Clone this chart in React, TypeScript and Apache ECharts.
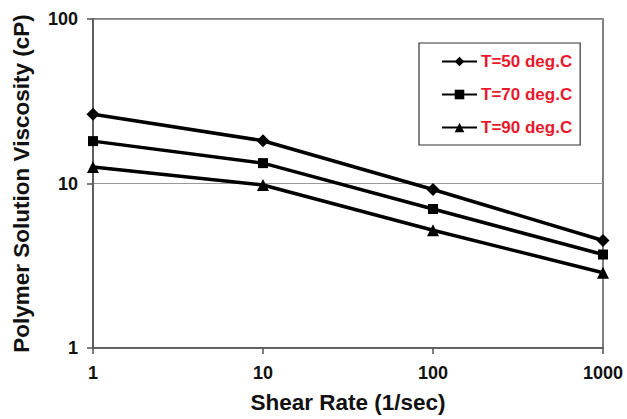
import React, { useEffect, useRef } from "react";
import * as echarts from "echarts";

const shearRates = [1, 10, 100, 1000];
const t50 = [26.4, 18.2, 9.2, 4.5];
const t70 = [18.1, 13.3, 7.0, 3.7];
const t90 = [12.6, 9.8, 5.2, 2.87];
const seriesNames = ["T=50 deg.C", "T=70 deg.C", "T=90 deg.C"];
const markers = ["diamond", "rect", "triangle"];
const markerSizes = [13, 10, 12];

export default function App() {
  const ref = useRef<HTMLDivElement>(null);
  useEffect(() => {
    const chart = echarts.init(ref.current!, null, { renderer: "svg" });
    const datasets = [t50, t70, t90];
    const font = "Liberation Sans, Arial, sans-serif";
    chart.setOption({
      animation: false,
      backgroundColor: "#fff",
      textStyle: { fontFamily: font },
      grid: {
        left: 93,
        top: 19,
        width: 510,
        height: 332,
        show: true,
        borderColor: "#555",
        borderWidth: 1.5,
        containLabel: false,
      },
      legend: {
        orient: "vertical",
        left: 419,
        top: 43,
        width: 160,
        data: seriesNames,
        itemWidth: 35,
        itemHeight: 12,
        itemGap: 16,
        padding: [10, 8, 9, 22],
        borderColor: "#333",
        borderWidth: 1.2,
        align: "left",
        textStyle: { color: "#e8192c", fontWeight: "bold", fontSize: 17, fontFamily: font, padding: [0, 0, 0, -1] },
      },
      xAxis: {
        type: "log",
        logBase: 10,
        min: 1,
        max: 1000,
        name: "Shear Rate (1/sec)",
        nameLocation: "middle",
        nameGap: 43,
        nameTextStyle: { fontSize: 22.5, fontWeight: "bold", color: "#111", fontFamily: font },
        axisLine: { lineStyle: { color: "#555", width: 1.5 } },
        axisTick: { show: true, length: 6, lineStyle: { color: "#555", width: 1.5 } },
        axisLabel: {
          fontSize: 18,
          fontWeight: "bold",
          color: "#111",
          margin: 16,
          fontFamily: font,
          formatter: (v: number) => String(Math.round(v)),
        },
        splitLine: { show: false },
        minorTick: { show: false },
      },
      yAxis: {
        type: "log",
        logBase: 10,
        min: 1,
        max: 100,
        name: "Polymer Solution Viscosity (cP)",
        nameLocation: "middle",
        nameGap: 60,
        nameTextStyle: { fontSize: 22.5, fontWeight: "bold", color: "#111", fontFamily: font },
        axisLine: { lineStyle: { color: "#555", width: 1.5 } },
        axisTick: { show: true, length: 6, lineStyle: { color: "#555", width: 1.5 } },
        axisLabel: {
          fontSize: 18,
          fontWeight: "bold",
          color: "#111",
          margin: 15,
          fontFamily: font,
          formatter: (v: number) => String(Math.round(v)),
        },
        splitLine: { show: true, lineStyle: { color: "#999", width: 1 } },
      },
      series: datasets.map((d, i) => ({
        name: seriesNames[i],
        type: "line",
        data: shearRates.map((x, j) => [x, d[j]]),
        symbol: markers[i],
        symbolSize: markerSizes[i],
        showAllSymbol: true,
        lineStyle: { color: "#000", width: 3.5 },
        itemStyle: { color: "#000" },
        z: 3,
      })),
    });
    return () => chart.dispose();
  }, []);
  return (
    <div
      ref={ref}
      style={{ position: "absolute", left: 0, top: 0, width: 627, height: 419 }}
    />
  );
}
